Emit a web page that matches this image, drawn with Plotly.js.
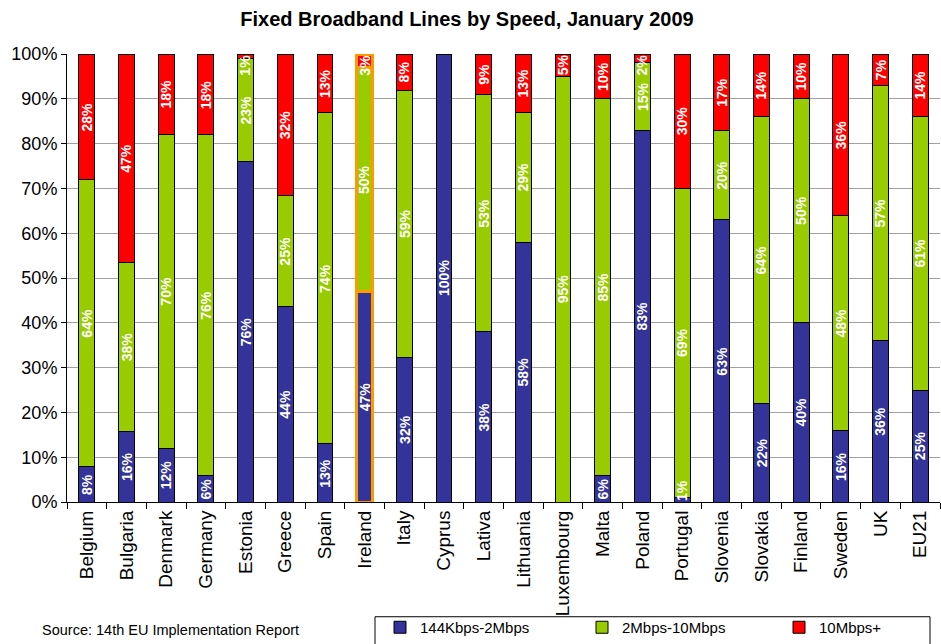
<!DOCTYPE html>
<html>
<head>
<meta charset="utf-8">
<script src="https://cdn.plot.ly/plotly-3.0.1.min.js"></script>
<style>html,body{margin:0;padding:0;background:#fff;}#chart{width:941px;height:644px;}</style>
</head>
<body>
<div id="chart"></div>
<script>
const countries = ["Belgium","Bulgaria","Denmark","Germany","Estonia","Greece","Spain","Ireland","Italy","Cyprus","Lativa","Lithuania","Luxembourg","Malta","Poland","Portugal","Slovenia","Slovakia","Finland","Sweden","UK","EU21"];
const low  = [8,16,12,6,76,44,13,47,32,100,38,58,0,6,83,1,63,22,40,16,36,25];
const mid  = [64,38,70,76,23,25,74,50,59,0,53,29,95,85,15,69,20,64,50,48,57,61];
const high = [28,47,18,18,1,32,13,3,8,0,9,13,5,10,2,30,17,14,10,36,7,14];
const seriesNames = ["144Kbps-2Mbps","2Mbps-10Mbps","10Mbps+"];
const seriesColors = ["#333399","#99CC00","#FF0000"];
const yTickVals = [0,10,20,30,40,50,60,70,80,90,100];
const yTickText = ["0%","10%","20%","30%","40%","50%","60%","70%","80%","90%","100%"];
const highlight = "Ireland";

const FONT = "Arial, Liberation Sans, sans-serif";
const LABEL_SIZE = 14;
const lineColors = countries.map(c => c === highlight ? "#FF9900" : "#000000");
const lineWidths = countries.map(c => c === highlight ? 3 : 1);
const series = [low, mid, high];
const legendIds = ["legend", "legend2", "legend3"];

const L = 67, T = 54, W = 873, H = 449;
const px2x = p => (p - L) / W;
const px2y = p => (T + H - p) / H;

const data = series.map((vals, i) => ({
  type: "bar",
  name: seriesNames[i],
  legend: legendIds[i],
  x: countries,
  y: vals,
  marker: {color: seriesColors[i], line: {color: lineColors, width: lineWidths}},
  cliponaxis: false,
  hoverinfo: "skip"
}));

// value labels at the middle of each (normalised) segment, kept inside the bar's 0-100 span
const labelAnnotations = [];
countries.forEach((c, j) => {
  const total = low[j] + mid[j] + high[j];
  let cum = 0;
  series.forEach(vals => {
    const v = vals[j];
    if (v > 0) {
      const txt = v + "%";
      const lenPx = ((txt.length - 1) * 0.556 + 0.889) * LABEL_SIZE + 2;
      const half = lenPx / 2 / H * 100;
      let yc = (cum + v / 2) / total * 100;
      yc = Math.min(Math.max(yc, half), 100 - half);
      labelAnnotations.push({
        xref: "x", yref: "y", x: c, y: yc,
        text: "<b>" + txt + "</b>", textangle: -90, showarrow: false,
        xanchor: "center", yanchor: "middle",
        font: {family: FONT, size: LABEL_SIZE, color: "#ffffff"}
      });
    }
    cum += v;
  });
});

const legendBase = {
  orientation: "h", xanchor: "left", y: px2y(644), yanchor: "bottom",
  borderwidth: 0, bgcolor: "rgba(0,0,0,0)",
  font: {family: FONT, size: 15, color: "#000"}
};

const layout = {
  width: 941, height: 644,
  margin: {l: L, r: 941 - L - W, t: T, b: 644 - T - H},
  paper_bgcolor: "#ffffff", plot_bgcolor: "#ffffff",
  barmode: "stack",
  barnorm: "percent",
  bargap: 0.6,
  title: {text: "<b>Fixed Broadband Lines by Speed, January 2009</b>", x: 467/941, xanchor: "center", y: 1 - 19/644, yanchor: "middle",
          font: {family: FONT, size: 20, color: "#000"}},
  xaxis: {
    automargin: false,
    tickangle: -90, tickson: "boundaries", ticks: "outside", ticklen: 6, tickcolor: "#000",
    showline: true, linecolor: "#000", linewidth: 1, showgrid: false,
    tickfont: {family: FONT, size: 19, color: "#000"}
  },
  yaxis: {
    automargin: false,
    range: [0, 100], tickvals: yTickVals, ticktext: yTickText,
    ticks: "outside", ticklen: 5, tickcolor: "#000",
    showline: true, linecolor: "#000", linewidth: 1,
    showgrid: true, gridcolor: "#a0a0a0", gridwidth: 1, zeroline: false,
    tickfont: {family: FONT, size: 18, color: "#000"}
  },
  showlegend: true,
  legend:  Object.assign({}, legendBase, {x: px2x(380)}),
  legend2: Object.assign({}, legendBase, {x: px2x(582)}),
  legend3: Object.assign({}, legendBase, {x: px2x(779)}),
  shapes: [{
    type: "rect", xref: "paper", yref: "paper",
    x0: px2x(375), x1: px2x(930), y0: px2y(618), y1: px2y(660),
    line: {color: "#000", width: 1}, fillcolor: "rgba(0,0,0,0)", layer: "below"
  }],
  annotations: labelAnnotations.concat([{
    xref: "paper", yref: "paper", x: px2x(40), y: px2y(631), xanchor: "left", yanchor: "middle",
    text: "Source: 14th EU Implementation Report", showarrow: false,
    font: {family: FONT, size: 14.5, color: "#000"}
  }])
};

Plotly.newPlot("chart", data, layout, {displayModeBar: false, staticPlot: true});
</script>
</body>
</html>
